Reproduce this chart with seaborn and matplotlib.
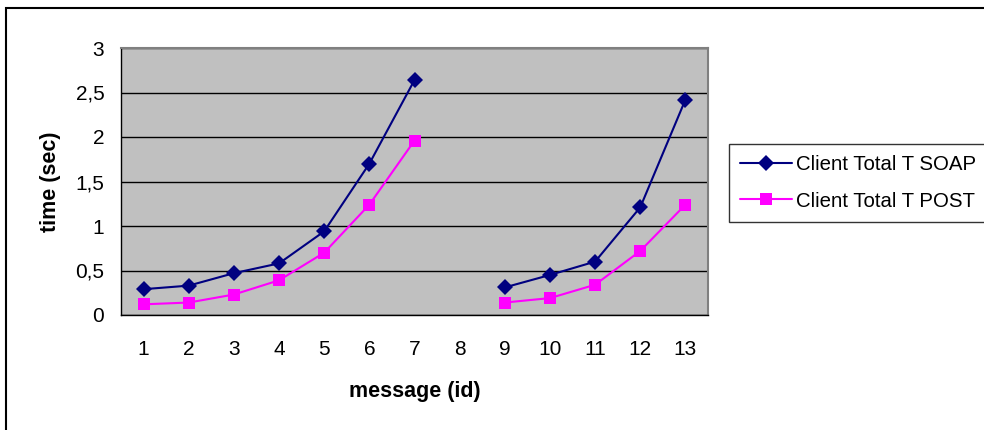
import numpy as np
import pandas as pd
import matplotlib
matplotlib.use("Agg")
import matplotlib.pyplot as plt
import matplotlib.patches as mpatches
from matplotlib.ticker import FixedLocator, FuncFormatter
import seaborn as sns

# message ids (8 has no measurement)
message_id = list(range(1, 14))
soap_time = [0.29, 0.33, 0.47, 0.58, 0.94, 1.70, 2.64, np.nan, 0.31, 0.45, 0.60, 1.21, 2.42]
post_time = [0.12, 0.14, 0.23, 0.39, 0.70, 1.24, 1.96, np.nan, 0.14, 0.19, 0.34, 0.72, 1.24]
series_names = ["Client Total T SOAP", "Client Total T POST"]
y_ticks = [0, 0.5, 1, 1.5, 2, 2.5, 3]

# long-form table; a segment index keeps the missing id as a gap in the line
rows = []
for name, vals in zip(series_names, [soap_time, post_time]):
    seg = 0
    for mid, v in zip(message_id, vals):
        if np.isnan(v):
            seg += 1
            continue
        rows.append({"message": mid, "time": v, "series": name, "segment": seg})
df = pd.DataFrame(rows)

sns.set_style("white")
plt.rcParams["font.family"] = ["Liberation Sans", "DejaVu Sans"]
plt.rcParams.update({"text.color": "black", "axes.labelcolor": "black",
                     "xtick.color": "black", "ytick.color": "black"})

fig = plt.figure(figsize=(9.84, 4.30), dpi=100)
ax = fig.add_axes([121 / 984, 1 - 315 / 430, (708 - 121) / 984, (315 - 48) / 430])
ax.set_facecolor("#C0C0C0")

palette = {series_names[0]: "#000080", series_names[1]: "#FF00FF"}
markers = {series_names[0]: "D", series_names[1]: "s"}
sns.lineplot(data=df, x="message", y="time", hue="series", style="series",
             units="segment", estimator=None, palette=palette, markers=markers,
             dashes=False, linewidth=1.5, markersize=8.5, markeredgewidth=0,
             ax=ax, zorder=3)

ax.set_xlim(0.5, 13.5)
ax.set_ylim(0, 3)
ax.xaxis.set_major_locator(FixedLocator(message_id))
ax.xaxis.set_minor_locator(FixedLocator(np.arange(0.5, 14, 1)))
ax.set_xticklabels([str(m) for m in message_id])
ax.set_yticks(y_ticks)
ax.yaxis.set_major_formatter(FuncFormatter(lambda v, p: ("%g" % v).replace(".", ",")))
ax.tick_params(axis="x", which="major", length=0, pad=18, labelsize=15, labelcolor="black")
ax.tick_params(axis="x", which="minor", length=6, width=1, direction="out", color="black")
ax.tick_params(axis="y", length=6, width=1, direction="out", color="black", pad=6,
               labelsize=15, labelcolor="black")
ax.yaxis.grid(True, color="black", linewidth=1, zorder=1)
ax.set_axisbelow(True)

for s in ["left", "bottom"]:
    ax.spines[s].set_color("black")
    ax.spines[s].set_linewidth(1)
for s in ["top", "right"]:
    ax.spines[s].set_color("#808080")
    ax.spines[s].set_linewidth(1.5)

ax.set_xlabel("message (id)", fontsize=15.5, fontweight="bold", labelpad=16, color="black")
ax.set_ylabel("time (sec)", fontsize=15.5, fontweight="bold", labelpad=10, color="black")

sns.move_legend(ax, loc="upper left", bbox_to_anchor=(729 / 984, 1 - 144 / 430),
                bbox_transform=fig.transFigure, title=None, frameon=True,
                fancybox=False, fontsize=14.7, handlelength=2.55, labelspacing=0.85,
                borderpad=0.55, handletextpad=0.2, borderaxespad=0)
leg = ax.get_legend()
leg.get_frame().set_edgecolor("black")
leg.get_frame().set_linewidth(1)
for t in leg.get_texts():
    t.set_color("black")

# outer chart frame
fig.patches.append(mpatches.Rectangle((6 / 984, -0.2), 2.0, 1 - 8 / 430 + 0.2,
                                      transform=fig.transFigure, fill=False,
                                      edgecolor="black", linewidth=1.5))

fig.savefig("out.png", dpi=100)
